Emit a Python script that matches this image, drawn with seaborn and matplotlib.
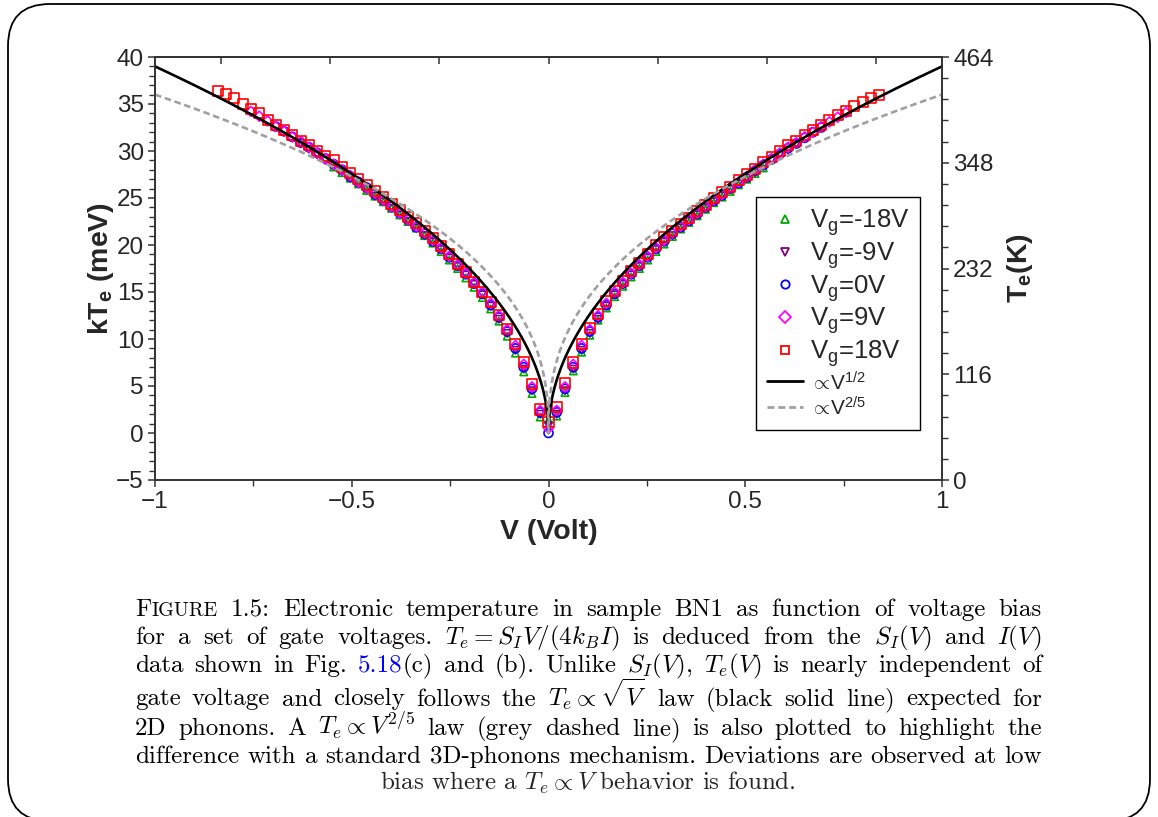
import matplotlib
matplotlib.use("Agg")
import numpy as np
import seaborn as sns
import matplotlib.pyplot as plt
from matplotlib.lines import Line2D
from matplotlib.patches import FancyBboxPatch
from matplotlib.ticker import MultipleLocator, AutoMinorLocator
from matplotlib.transforms import IdentityTransform

nan = np.nan

# =======================
# Data
# =======================
V_SWEEP = [-0.840, -0.819, -0.798, -0.777, -0.756, -0.735, -0.714, -0.693, -0.672, -0.651,
           -0.630, -0.609, -0.588, -0.567, -0.546, -0.525, -0.504, -0.483, -0.462, -0.441,
           -0.420, -0.399, -0.378, -0.357, -0.336, -0.315, -0.294, -0.273, -0.252, -0.231,
           -0.210, -0.189, -0.168, -0.147, -0.126, -0.105, -0.084, -0.063, -0.042, -0.021,
           0.0,
           0.021, 0.042, 0.063, 0.084, 0.105, 0.126, 0.147, 0.168, 0.189, 0.210,
           0.231, 0.252, 0.273, 0.294, 0.315, 0.336, 0.357, 0.378, 0.399, 0.420,
           0.441, 0.462, 0.483, 0.504, 0.525, 0.546, 0.567, 0.588, 0.609, 0.630,
           0.651, 0.672, 0.693, 0.714, 0.735, 0.756, 0.777, 0.798, 0.819, 0.840]

# kTe (meV), centred on V=0
T_VG_M18 = [28.3, 27.7, 27.1, 26.5, 25.8, 25.2, 24.6, 23.9, 23.2, 22.5, 21.8, 21.0, 20.2,
            19.3, 18.4, 17.5, 16.5, 15.5, 14.4, 13.2, 11.9, 10.3, 8.5, 6.5, 4.2, 1.7,
            1.4,
            1.8, 4.3, 6.6, 8.6, 10.4, 12.0, 13.3, 14.5, 15.6, 16.6, 17.5, 18.4, 19.3,
            20.1, 20.9, 21.7, 22.4, 23.1, 23.8, 24.5, 25.1, 25.7, 26.4, 27.0, 27.6, 28.2]
T_VG_M9 = [30.8, 30.2, 29.6, 29.0, 28.4, 27.8, 27.1, 26.5, 25.9, 25.2, 24.6, 23.9, 23.2,
           22.5, 21.8, 21.0, 20.3, 19.5, 18.6, 17.7, 16.8, 15.8, 14.7, 13.5, 12.1, 10.6,
           8.8, 6.8, 4.5, 2.0,
           0.8,
           2.0, 4.5, 6.8, 8.8, 10.6, 12.1, 13.5, 14.7, 15.8, 16.8, 17.7, 18.6, 19.5,
           20.3, 21.0, 21.8, 22.5, 23.2, 23.9, 24.6, 25.2, 25.9, 26.5, 27.1, 27.7, 28.4,
           29.0, 29.6, 30.1, 30.7]
T_VG_0 = [32.6, 32.1, 31.5, 30.9, 30.4, 29.8, 29.2, 28.6, 28.0, 27.3, 26.7, 26.1, 25.4,
          24.8, 24.1, 23.4, 22.7, 21.9, 21.2, 20.4, 19.6, 18.7, 17.8, 16.9, 15.9, 14.8,
          13.6, 12.3, 10.8, 9.0, 7.0, 4.7, 2.2,
          0.0,
          2.2, 4.7, 7.0, 9.0, 10.8, 12.3, 13.6, 14.8, 15.9, 16.9, 17.8, 18.7, 19.6,
          20.4, 21.2, 21.9, 22.6, 23.3, 24.0, 24.7, 25.3, 26.0, 26.6, 27.2, 27.9, 28.5,
          29.1, 29.7, 30.3, 30.8, 31.4, 32.0, 32.5]
T_VG_9 = [34.2, 33.7, 33.2, 32.6, 32.1, 31.5, 31.0, 30.4, 29.8, 29.2, 28.6, 28.0, 27.4,
          26.7, 26.1, 25.5, 24.8, 24.1, 23.4, 22.7, 22.0, 21.3, 20.5, 19.7, 18.8, 17.9,
          17.0, 16.0, 15.0, 13.8, 12.5, 11.0, 9.3, 7.3, 4.9, 2.4,
          0.5,
          2.4, 4.9, 7.3, 9.3, 11.0, 12.5, 13.8, 15.0, 16.0, 17.0, 17.9, 18.8, 19.7,
          20.5, 21.3, 22.0, 22.7, 23.4, 24.1, 24.8, 25.4, 26.1, 26.7, 27.3, 28.0, 28.6,
          29.2, 29.8, 30.4, 30.9, 31.5, 32.0, 32.6, 33.1, 33.6, 34.1]
T_VG_18 = [36.4, 36.1, 35.6, 35.0, 34.5, 34.0, 33.3, 32.8, 32.2, 31.7, 31.1, 30.6, 30.0,
           29.5, 29.0, 28.3, 27.7, 27.0, 26.4, 25.7, 25.1, 24.4, 23.7, 23.0, 22.3, 21.5,
           20.7, 19.9, 19.0, 18.0, 17.1, 16.1, 15.0, 13.9, 12.6, 11.1, 9.5, 7.6, 5.2, 2.5,
           1.2,
           2.8, 5.3, 7.5, 9.5, 11.2, 12.7, 14.0, 15.1, 16.2, 17.2, 18.1, 19.0, 20.0,
           20.8, 21.5, 22.2, 22.9, 23.6, 24.3, 25.0, 25.6, 26.2, 26.9, 27.5, 28.1, 28.8,
           29.4, 30.0, 30.6, 31.1, 31.7, 32.2, 32.8, 33.3, 33.8, 34.3, 34.8, 35.2, 35.6, 36.0]

SERIES_LABELS = [r"V$_{\rm g}$=-18V", r"V$_{\rm g}$=-9V", r"V$_{\rm g}$=0V",
                 r"V$_{\rm g}$=9V", r"V$_{\rm g}$=18V"]
SERIES_DATA = [T_VG_M18, T_VG_M9, T_VG_0, T_VG_9, T_VG_18]

# power-law guides: kTe = A |V|^n
SQRT_AMP, SQRT_EXP = 39.0, 0.5
P25_AMP, P25_EXP = 36.0, 0.4

X_TICKS = [-1, -0.5, 0, 0.5, 1]
X_TICKLABELS = ["\u22121", "\u22120.5", "0", "0.5", "1"]
Y_TICKS = [-5, 0, 5, 10, 15, 20, 25, 30, 35, 40]
K_TICKS = [0, 116, 232, 348, 464]

colors = ["#00a800", "#800080", "#0000ff", "#ff00ff", "#ff0000"]
markers = ["^", "v", "o", "D", "s"]
msizes = [28, 28, 42, 26, 52]


def on_sweep(vals):
    pad = (len(V_SWEEP) - len(vals)) // 2
    return [nan] * pad + list(vals) + [nan] * pad


# =======================
# Style
# =======================
sns.set_theme(style="ticks")
plt.rcParams["font.family"] = ["Liberation Sans", "DejaVu Sans"]
plt.rcParams["mathtext.fontset"] = "custom"
plt.rcParams["mathtext.rm"] = "Liberation Sans"
plt.rcParams["mathtext.it"] = "Liberation Sans:italic"
plt.rcParams["mathtext.bf"] = "Liberation Sans:bold"
plt.rcParams["axes.edgecolor"] = "#333333"
plt.rcParams["axes.linewidth"] = 1.2

W, H = 1158, 817
fig = plt.figure(figsize=(W / 100, H / 100), dpi=100)
fig.patch.set_facecolor("white")

ax = fig.add_axes([155 / W, 1 - 480 / H, 787 / W, 423 / H])
ax.set_facecolor("white")

for vals, lab, col, mk, ms in zip(SERIES_DATA, SERIES_LABELS, colors, markers, msizes):
    sns.scatterplot(x=V_SWEEP, y=on_sweep(vals), ax=ax, marker=mk, s=ms,
                    color=col, facecolor="none", edgecolor=col, linewidth=1.2,
                    legend=False, zorder=3)

v_line = np.linspace(-1, 1, 2001)
sns.lineplot(x=v_line, y=SQRT_AMP * np.abs(v_line) ** SQRT_EXP, ax=ax, color="black",
             lw=1.9, sort=False, estimator=None, zorder=4)
sns.lineplot(x=v_line, y=P25_AMP * np.abs(v_line) ** P25_EXP, ax=ax, color="#a0a0a0",
             lw=1.9, sort=False, estimator=None, zorder=5)
ax.lines[-1].set_dashes((2.5, 1.4))

ax.set_xlim(-1, 1)
ax.set_ylim(-5, 40)
ax.set_xticks(X_TICKS)
ax.set_xticklabels(X_TICKLABELS)
ax.set_yticks(Y_TICKS)
ax.xaxis.set_minor_locator(MultipleLocator(0.25))
ax.yaxis.set_minor_locator(MultipleLocator(1))
ax.tick_params(which="both", direction="out", labelsize=17.5, color="#333333",
               top=False, right=False, pad=3)
ax.tick_params(which="major", length=5, width=1.1)
ax.tick_params(which="minor", length=4, width=1.0)
ax.set_xlabel("V (Volt)", fontsize=20.5, fontweight="bold", labelpad=4)
ax.set_ylabel(r"kT$_{\mathbf{e}}$ (meV)", fontsize=20.5, fontweight="bold", labelpad=0)

# right temperature axis
ax2 = ax.twinx()
ax2.set_ylim(0, 464)
ax2.set_yticks(K_TICKS)
ax2.yaxis.set_minor_locator(AutoMinorLocator(5))
ax2.tick_params(which="both", direction="out", labelsize=17.5, color="#333333", pad=3)
ax2.tick_params(which="major", length=5, width=1.1)
ax2.tick_params(which="minor", length=4, width=1.0)
ax2.set_ylabel(r"T$_{\mathbf{e}}$(K)", fontsize=20.5, fontweight="bold", labelpad=8)

# top ticks (no labels)
sec = ax.secondary_xaxis("top", functions=(lambda v: v * 3.6, lambda u: u / 3.6))
sec.set_xticks([-3, -2, -1, 0, 1, 2, 3])
sec.set_xticklabels([])
sec.tick_params(direction="in", length=5, width=1.1, color="#333333")
sec.minorticks_off()

# legend
handles = [Line2D([], [], ls="none", marker=mk, ms=6, mfc="none", mec=col, mew=1.3)
           for col, mk in zip(colors, markers)]
handles.append(Line2D([], [], color="black", lw=2))
handles.append(Line2D([], [], color="#a0a0a0", lw=2, dashes=(2.5, 1.4)))
labels = SERIES_LABELS + [r"${\propto}\!$V$^{1/2}$", r"${\propto}\!$V$^{2/5}$"]
leg = ax.legend(handles, labels, loc="upper right", bbox_to_anchor=(0.972, 0.669),
                fontsize=18.5, frameon=True, fancybox=False, edgecolor="black",
                framealpha=1, handlelength=1.4, handletextpad=0.3, labelspacing=0.08,
                borderpad=0.4, borderaxespad=0)
leg.get_frame().set_linewidth(1.0)
for t in leg.get_texts()[5:]:
    t.set_fontsize(15)

# =======================
# Rounded frame and caption
# =======================
frame = FancyBboxPatch((8, -4), 1142, 817, boxstyle="round,pad=0,rounding_size=42",
                       transform=IdentityTransform(), fc="none", ec="black", lw=1.3)
fig.patches.append(frame)

CAP_FS = 18
renderer = fig.canvas.get_renderer()


def W_(s, col="black", scale=1.0):
    return [(s, col, scale)]


def plain(s):
    return [W_(w) for w in s.split()]


caption_lines = [
    [[("F", "black", 1.0), ("IGURE", "black", 0.8)], W_("1.5:")]
    + plain("Electronic temperature in sample BN1 as function of voltage bias"),
    plain(r"for a set of gate voltages. $T_e=S_IV/(4k_BI)$ is deduced from the $S_I(V)$ and $I(V)$"),
    plain("data shown in Fig.") + [[("5.18", "#0000ff", 1.0), ("(c)", "black", 1.0)]]
    + plain(r"and (b). Unlike $S_I(V)$, $T_e(V)$ is nearly independent of"),
    plain(r"gate voltage and closely follows the $T_e\propto\sqrt{V}$ law (black solid line) expected for"),
    plain(r"2D phonons. A $T_e\propto{}V^{2/5}$ law (grey dashed line) is also plotted to highlight the"),
    plain("difference with a standard 3D-phonons mechanism. Deviations are observed at low"),
]
LAST_LINE = r"bias where a $T_e \propto V$ behavior is found."

x_left, x_right = 135, 1042
baselines = [616, 644, 672, 705.5, 735, 763, 790]
for words, yb in zip(caption_lines, baselines):
    y = 1 - yb / H
    placed = []
    total = 0
    for word in words:
        arts = []
        for txt, col, sc in word:
            t = fig.text(0, y, txt, fontsize=CAP_FS * sc, color=col, family="cmr10",
                         math_fontfamily="cm", va="baseline", ha="left")
            w = t.get_window_extent(renderer).width
            arts.append((t, w))
            total += w
        placed.append(arts)
    gap = (x_right - x_left - total) / (len(placed) - 1)
    x = x_left
    for arts in placed:
        for t, w in arts:
            t.set_x(x / W)
            x += w
        x += gap

fig.text(588 / W, 1 - baselines[-1] / H, LAST_LINE, fontsize=CAP_FS, family="cmr10",
         math_fontfamily="cm", va="baseline", ha="center")

fig.savefig("out.png", dpi=100)
